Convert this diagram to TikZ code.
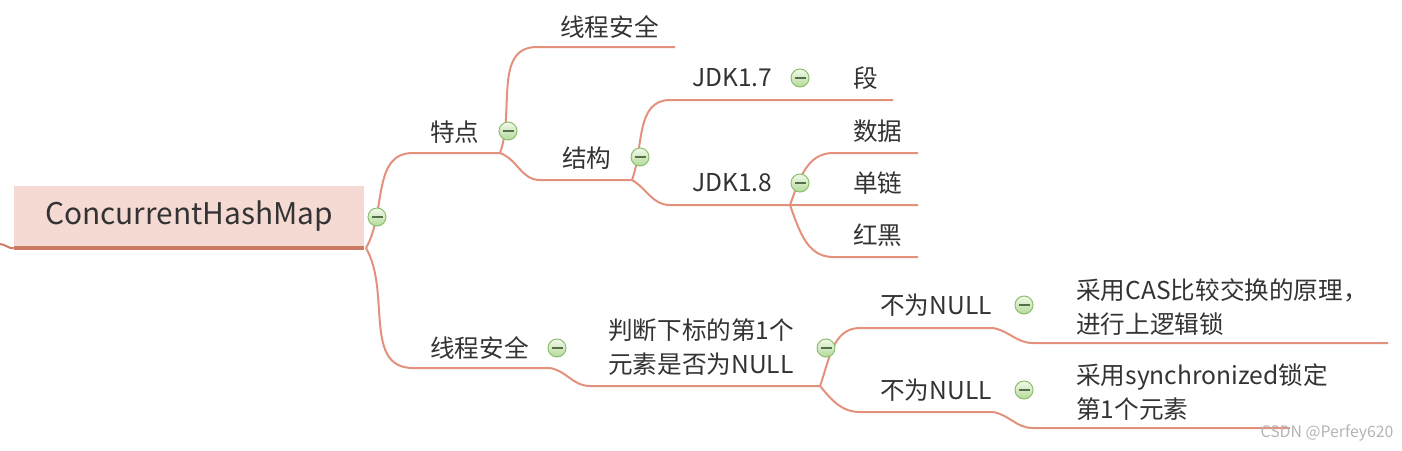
\documentclass[tikz,border=0pt]{standalone}
\usepackage{fontspec}
\setmainfont{Noto Sans CJK SC}
\usepackage{tikz}
\usetikzlibrary{calc}
\definecolor{branch}{HTML}{E3907C}
\definecolor{rootfill}{HTML}{F5DAD4}
\definecolor{rootbarc}{HTML}{CC7A64}
\definecolor{ink}{HTML}{333333}
\definecolor{foldline}{HTML}{8CBF6C}
\definecolor{foldtop}{HTML}{F2F9EC}
\definecolor{foldbot}{HTML}{B3DA99}
\definecolor{foldmark}{HTML}{56704A}
\definecolor{wmgray}{HTML}{B4B4B4}
\tikzset{
  topic/.style={anchor=west,inner sep=0pt,text=ink,align=left,
    font=\fontsize{14}{19}\selectfont},
  roottopic/.style={fill=rootfill,minimum width=7cm,minimum height=1.2cm,
    inner sep=0pt,text=ink,font=\fontsize{17}{20}\selectfont},
  link/.style={draw=branch,line width=0.04cm},
  rootbar/.style={draw=rootbarc,line width=0.08cm},
  foldicon/.style={circle,draw=foldline,line width=0.02cm,top color=foldtop,
    bottom color=foldbot,minimum size=0.36cm,inner sep=0pt,
    path picture={\draw[foldmark,line width=0.03cm]
      ([xshift=-0.11cm]path picture bounding box.center) --
      ([xshift=0.11cm]path picture bounding box.center);}},
  wmark/.style={inner sep=0pt,text=wmgray,font=\fontsize{9}{10}\selectfont}
}
\begin{document}
\begin{tikzpicture}[x=0.02cm,y=-0.02cm]
    \useasboundingbox (0,0) rectangle (1402,450);
    % root
    \node[roottopic] (root) at (189,216) {ConcurrentHashMap};
    \draw[rootbar] ([yshift=-0.04cm]root.south west) -- ([yshift=-0.04cm]root.south east);
    \coordinate (prev) at (0,244);
    \draw[draw=rootbarc,line width=0.04cm] (prev) to[out=-5,in=180] ([yshift=-0.04cm]root.south west);
    \coordinate (rootJ) at (366,248);
    % underline ends
    \coordinate (tdA) at (413,153); \coordinate (tdB) at (500,153);
    \coordinate (aqA) at (413,368); \coordinate (aqB) at (550,368);
    \coordinate (xcA) at (537,47);  \coordinate (xcB) at (675,47);
    \coordinate (jgA) at (540,180); \coordinate (jgB) at (632,180);
    \coordinate (j7A) at (670,100); \coordinate (j7B) at (790,100);
    \coordinate (dnB) at (893,100);
    \coordinate (j8A) at (670,205); \coordinate (j8B) at (790,205);
    \coordinate (dlB) at (918,205);
    \coordinate (sjA) at (833,153); \coordinate (sjB) at (918,153);
    \coordinate (hhA) at (833,257); \coordinate (hhB) at (918,257);
    \coordinate (pdA) at (590,386); \coordinate (pdB) at (820,386);
    \coordinate (n1A) at (860,328); \coordinate (n1B) at (993,328);
    \coordinate (n2A) at (860,412); \coordinate (n2B) at (993,412);
    \coordinate (c1A) at (1033,343); \coordinate (c1B) at (1388,343);
    \coordinate (c2A) at (1033,428); \coordinate (c2B) at (1290,428);
    % connectors
    \draw[link] (rootJ) to[out=60,in=180] (tdA) -- (tdB);
    \draw[link] (rootJ) to[out=-60,in=180] (aqA) -- (aqB);
    \draw[link] (tdB) to[out=70,in=180] (xcA) -- (xcB);
    \draw[link] (tdB) to[out=-20,in=180] (jgA) -- (jgB);
    \draw[link] (jgB) to[out=70,in=180] (j7A) -- (j7B) -- (dnB);
    \draw[link] (jgB) to[out=-30,in=180] (j8A) -- (j8B) -- (dlB);
    \draw[link] (j8B) to[out=70,in=180] (sjA) -- (sjB);
    \draw[link] (j8B) to[out=-70,in=180] (hhA) -- (hhB);
    \draw[link] (aqB) to[out=-10,in=180] (pdA) -- (pdB);
    \draw[link] (pdB) to[out=70,in=180] (n1A) -- (n1B);
    \draw[link] (pdB) to[out=-50,in=180] (n2A) -- (n2B);
    \draw[link] (n1B) to[out=-10,in=180] (c1A) -- (c1B);
    \draw[link] (n2B) to[out=-10,in=180] (c2A) -- (c2B);
    % topics
    \node[topic] (td) at (430,132) {特点};
    \node[topic] (aq) at (430,348) {线程安全};
    \node[topic] (xc) at (560,27) {线程安全};
    \node[topic] (jg) at (562,158) {结构};
    \node[topic] (j7) at (692,78) {JDK1.7};
    \node[topic] (dn) at (853,78) {段};
    \node[topic] (j8) at (692,183) {JDK1.8};
    \node[topic] (sj) at (853,131) {数据};
    \node[topic] (dl) at (853,183) {单链};
    \node[topic] (hh) at (853,235) {红黑};
    \node[topic] (pd) at (608,347) {判断下标的第1个\\元素是否为NULL};
    \node[topic] (n1) at (880,305) {不为NULL};
    \node[topic] (n2) at (880,390) {不为NULL};
    \node[topic] (c1) at (1076,307) {采用CAS比较交换的原理，\\进行上逻辑锁};
    \node[topic] (c2) at (1076,392) {采用synchronized锁定\\第1个元素};
    % fold icons
    \foreach \n/\x/\y in {r/377/217,td/508/131,jg/640/157,j7/800/78,j8/800/183,
        aq/557/348,pd/826/348,n1/1024/305,n2/1024/390}
      {\node[foldicon] (f\n) at (\x,\y) {};}
    \node[wmark] (wm) at (1327,433) {CSDN @Perfey620};
\end{tikzpicture}
\end{document}
